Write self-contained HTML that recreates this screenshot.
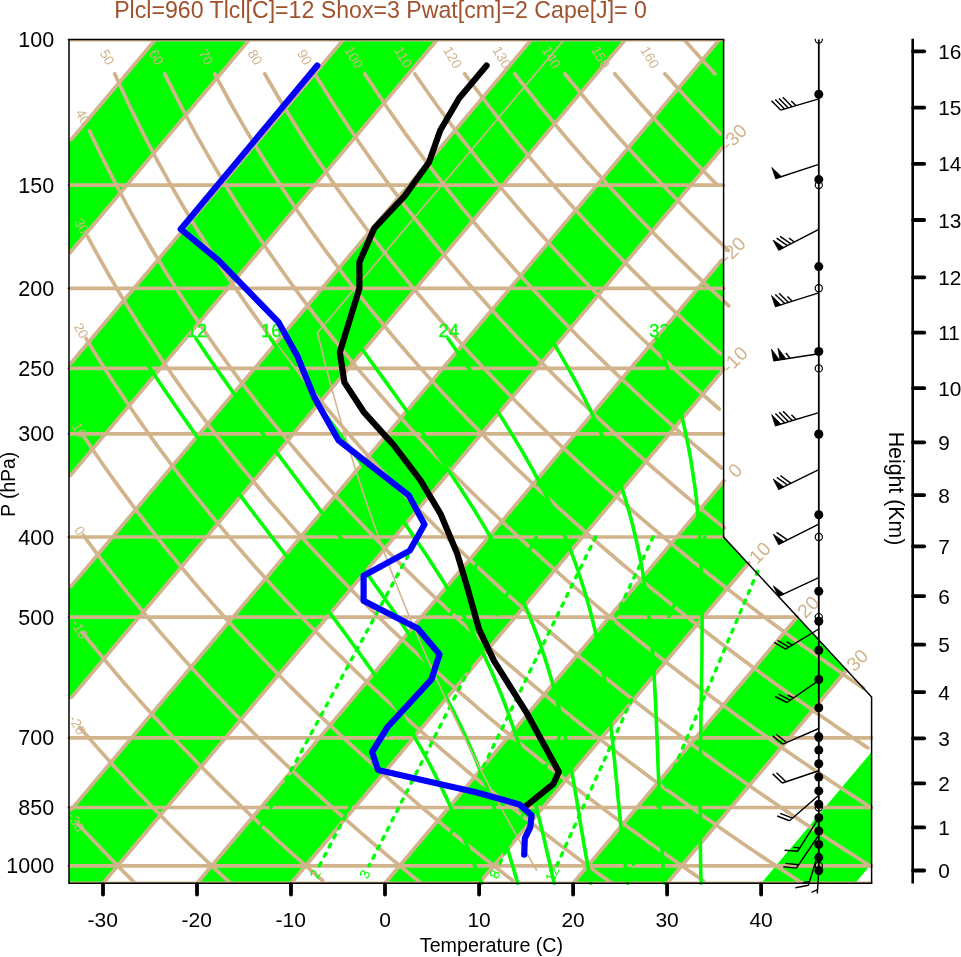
<!DOCTYPE html>
<html lang="en"><head><meta charset="utf-8"><title>Skew-T Log-P</title>
<style>html,body{margin:0;padding:0;background:#fff}svg{display:block}</style></head>
<body>
<svg width="961" height="957" viewBox="0 0 961 957" font-family="'Liberation Sans', sans-serif">
<defs><clipPath id="fc"><path d="M69 883.3 L69 39.6 L723.6 39.6 L723.6 537.1 L871.6 697 L871.6 883.3 Z"/></clipPath><clipPath id="vc"><rect x="69" y="39.6" width="804.6" height="843.7"/></clipPath><clipPath id="wc"><rect x="760" y="38.8" width="120" height="900"/></clipPath></defs>
<rect width="961" height="957" fill="#fff"/>
<g clip-path="url(#fc)" fill="#00ff00">
<path d="M-571.9 903.2 L186 3.2 L280 3.2 L-477.9 903.2 Z"/>
<path d="M-383.9 903.2 L374 3.2 L468 3.2 L-289.9 903.2 Z"/>
<path d="M-195.9 903.2 L562 3.2 L656.1 3.2 L-101.8 903.2 Z"/>
<path d="M-7.8 903.2 L750.1 3.2 L844.1 3.2 L86.2 903.2 Z"/>
<path d="M180.2 903.2 L938.1 3.2 L1032.1 3.2 L274.2 903.2 Z"/>
<path d="M368.2 903.2 L1126.1 3.2 L1220.1 3.2 L462.2 903.2 Z"/>
<path d="M556.3 903.2 L1314.2 3.2 L1408.2 3.2 L650.3 903.2 Z"/>
<path d="M744.3 903.2 L1502.2 3.2 L1596.2 3.2 L838.3 903.2 Z"/>
</g>
<g clip-path="url(#vc)" stroke="#d2b48c" stroke-width="3.7" stroke-linecap="round" fill="none">
<path d="M155.4 39.6 L71.5 139.2"/>
<path d="M249.4 39.6 L70.1 252.5"/>
<path d="M343.4 39.6 L70.2 364"/>
<path d="M437.4 39.6 L70.3 475.5"/>
<path d="M531.4 39.6 L71 586.4"/>
<path d="M625.4 39.6 L71.7 697.1"/>
<path d="M719.4 39.6 L71.1 809.6"/>
<path d="M722.8 147.3 L103 883.3"/>
<path d="M721.6 260.3 L197 883.3"/>
<path d="M723.4 369.8 L291 883.3"/>
<path d="M724 480.8 L385 883.3"/>
<path d="M748.8 563 L479.1 883.3"/>
<path d="M797.2 617.1 L573.1 883.3"/>
<path d="M846.4 670.3 L667.1 883.3"/>
<path d="M69 883.3 L871.6 883.3"/>
<path d="M69 865.8 L871.6 865.8"/>
<path d="M69 807.5 L871.6 807.5"/>
<path d="M69 737.8 L871.6 737.8"/>
<path d="M69 617.1 L797.3 617.1"/>
<path d="M69 537 L723.6 537"/>
<path d="M69 433.8 L723.6 433.8"/>
<path d="M69 368.4 L723.6 368.4"/>
<path d="M69 288.3 L723.6 288.3"/>
<path d="M69 185.1 L723.6 185.1"/>
<path d="M69 39.6 L723.6 39.6"/>
<path d="M78 824 L81.7 828 L85.4 831.9 L89.1 835.8 L92.7 839.7 L96.3 843.6 L100 847.4 L103.5 851.1 L107.1 854.8 L110.7 858.5 L114.2 862.2 L117.7 865.8 L121.3 869.3 L124.7 872.9 L128.2 876.4 L131.7 879.8 L135.1 883.3"/>
<path d="M79.7 727.4 L84.2 732.6 L88.7 737.8 L93.2 742.9 L97.6 747.9 L102 752.8 L106.4 757.7 L110.7 762.5 L115 767.3 L119.3 772 L123.6 776.6 L127.8 781.2 L132 785.7 L136.2 790.2 L140.4 794.6 L144.6 798.9 L148.7 803.2 L152.8 807.5 L156.9 811.6 L160.9 815.8 L164.9 819.9 L169 824 L173 828 L176.9 831.9 L180.9 835.8 L184.8 839.7 L188.7 843.6 L192.6 847.4 L196.5 851.1 L200.3 854.8 L204.2 858.5 L208 862.2 L211.8 865.8 L215.5 869.3 L219.3 872.9 L223 876.4 L226.8 879.8 L230.5 883.3"/>
<path d="M82.4 632.5 L87.9 639.3 L93.3 646 L98.7 652.6 L104 659 L109.3 665.3 L114.5 671.6 L119.7 677.7 L124.9 683.7 L130 689.6 L135.1 695.4 L140.1 701.1 L145.2 706.8 L150.2 712.3 L155.1 717.8 L160 723.1 L164.9 728.4 L169.8 733.7 L174.6 738.8 L179.4 743.9 L184.1 748.9 L188.9 753.8 L193.6 758.7 L198.2 763.5 L202.9 768.2 L207.5 772.9 L212.1 777.5 L216.6 782.1 L221.1 786.6 L225.6 791 L230.1 795.4 L234.6 799.8 L239 804.1 L243.4 808.3 L247.8 812.5 L252.1 816.6 L256.4 820.7 L260.7 824.8 L265 828.8 L269.3 832.7 L273.5 836.6 L277.7 840.5 L281.9 844.3 L286.1 848.1 L290.2 851.9 L294.3 855.6 L298.4 859.2 L302.5 862.9 L306.6 866.5 L310.6 870 L314.6 873.6 L318.6 877.1 L322.6 880.5"/>
<path d="M83.3 535.2 L89.9 544.1 L96.4 552.8 L102.8 561.3 L109.2 569.6 L115.5 577.7 L121.7 585.6 L127.9 593.3 L134.1 600.9 L140.2 608.4 L146.2 615.6 L152.2 622.8 L158.1 629.8 L164 636.6 L169.9 643.3 L175.7 650 L181.4 656.4 L187.1 662.8 L192.8 669.1 L198.4 675.2 L204 681.3 L209.5 687.2 L215 693.1 L220.4 698.8 L225.8 704.5 L231.2 710.1 L236.5 715.6 L241.8 721 L247.1 726.3 L252.3 731.6 L257.5 736.8 L262.6 741.9 L267.7 746.9 L272.8 751.9 L277.9 756.8 L282.9 761.6 L287.9 766.4 L292.8 771.1 L297.7 775.7 L302.6 780.3 L307.5 784.8 L312.3 789.3 L317.1 793.7 L321.9 798 L326.6 802.4 L331.3 806.6 L336 810.8 L340.7 815 L345.3 819.1 L349.9 823.1 L354.5 827.2 L359 831.1 L363.6 835.1 L368.1 839 L372.5 842.8 L377 846.6 L381.4 850.4 L385.8 854.1 L390.2 857.8 L394.6 861.4 L398.9 865 L403.2 868.6 L407.5 872.2 L411.8 875.7 L416.1 879.1 L420.3 882.6"/>
<path d="M83.7 436.2 L91.5 447.9 L99.3 459.2 L107 470.2 L114.6 480.8 L122.1 491.1 L129.5 501.2 L136.8 511 L144.1 520.5 L151.3 529.8 L158.4 538.8 L165.4 547.6 L172.4 556.2 L179.3 564.6 L186.1 572.8 L192.9 580.9 L199.6 588.7 L206.3 596.4 L212.8 603.9 L219.4 611.3 L225.8 618.5 L232.2 625.6 L238.6 632.5 L244.9 639.3 L251.1 646 L257.3 652.6 L263.4 659 L269.5 665.3 L275.6 671.6 L281.6 677.7 L287.5 683.7 L293.4 689.6 L299.2 695.4 L305 701.1 L310.8 706.8 L316.5 712.3 L322.2 717.8 L327.8 723.1 L333.4 728.4 L339 733.7 L344.5 738.8 L350 743.9 L355.4 748.9 L360.8 753.8 L366.2 758.7 L371.5 763.5 L376.8 768.2 L382.1 772.9 L387.3 777.5 L392.5 782.1 L397.7 786.6 L402.8 791 L407.9 795.4 L413 799.8 L418 804.1 L423 808.3 L428 812.5 L432.9 816.6 L437.8 820.7 L442.7 824.8 L447.6 828.8 L452.4 832.7 L457.2 836.6 L462 840.5 L466.8 844.3 L471.5 848.1 L476.2 851.9 L480.9 855.6 L485.5 859.2 L490.1 862.9 L494.7 866.5 L499.3 870 L503.8 873.6 L508.4 877.1 L512.9 880.5"/>
<path d="M86.1 338.5 L95.4 353.7 L104.6 368.4 L113.6 382.4 L122.6 396 L131.4 409 L140.1 421.6 L148.7 433.8 L157.2 445.6 L165.6 456.9 L173.9 468 L182.1 478.7 L190.2 489.1 L198.2 499.2 L206.1 509 L213.9 518.6 L221.7 527.9 L229.3 537 L236.9 545.9 L244.4 554.5 L251.8 563 L259.1 571.2 L266.4 579.3 L273.6 587.2 L280.7 594.9 L287.7 602.4 L294.7 609.8 L301.6 617.1 L308.5 624.2 L315.3 631.1 L322 638 L328.7 644.7 L335.3 651.3 L341.9 657.7 L348.4 664.1 L354.8 670.3 L361.2 676.5 L367.5 682.5 L373.8 688.4 L380.1 694.2 L386.3 700 L392.4 705.6 L398.5 711.2 L404.6 716.7 L410.6 722.1 L416.5 727.4 L422.4 732.6 L428.3 737.8 L434.1 742.9 L439.9 747.9 L445.7 752.8 L451.4 757.7 L457.1 762.5 L462.7 767.3 L468.3 772 L473.8 776.6 L479.4 781.2 L484.8 785.7 L490.3 790.2 L495.7 794.6 L501.1 798.9 L506.4 803.2 L511.8 807.5 L517 811.6 L522.3 815.8 L527.5 819.9 L532.7 824 L537.8 828 L543 831.9 L548.1 835.8 L553.1 839.7 L558.2 843.6 L563.2 847.4 L568.2 851.1 L573.1 854.8 L578 858.5 L582.9 862.2 L587.8 865.8 L592.7 869.3 L597.5 872.9 L602.3 876.4 L607.1 879.8 L611.8 883.3"/>
<path d="M87.5 236.3 L98.4 256.4 L109.2 275.5 L119.9 293.7 L130.4 310.9 L140.7 327.4 L150.9 343.1 L160.9 358.2 L170.8 372.7 L180.5 386.6 L190.1 400 L199.6 412.9 L208.9 425.3 L218.1 437.4 L227.2 449 L236.2 460.3 L245 471.2 L253.8 481.8 L262.4 492.2 L270.9 502.2 L279.4 511.9 L287.7 521.4 L295.9 530.7 L304.1 539.7 L312.1 548.5 L320.1 557.1 L328 565.4 L335.8 573.6 L343.5 581.7 L351.1 589.5 L358.7 597.2 L366.2 604.7 L373.6 612 L380.9 619.2 L388.2 626.3 L395.4 633.2 L402.6 640 L409.6 646.7 L416.6 653.2 L423.6 659.6 L430.5 666 L437.3 672.2 L444.1 678.3 L450.8 684.3 L457.4 690.2 L464.1 696 L470.6 701.7 L477.1 707.3 L483.6 712.9 L490 718.3 L496.3 723.7 L502.6 729 L508.9 734.2 L515.1 739.3 L521.2 744.4 L527.3 749.4 L533.4 754.3 L539.5 759.2 L545.4 764 L551.4 768.7 L557.3 773.4 L563.2 778 L569 782.5 L574.8 787 L580.5 791.5 L586.2 795.9 L591.9 800.2 L597.6 804.5 L603.2 808.7 L608.7 812.9 L614.3 817 L619.8 821.1 L625.3 825.2 L630.7 829.2 L636.1 833.1 L641.5 837 L646.8 840.9 L652.1 844.7 L657.4 848.5 L662.7 852.2 L667.9 855.9 L673.1 859.6 L678.2 863.2 L683.4 866.8 L688.5 870.4 L693.6 873.9 L698.6 877.4 L703.6 880.9"/>
<path d="M89.5 131 L102.4 157.8 L115 182.7 L127.4 206 L139.6 227.9 L151.5 248.5 L163.3 268 L174.9 286.5 L186.3 304.1 L197.5 320.9 L208.5 336.9 L219.3 352.2 L230 366.9 L240.5 381.1 L250.9 394.7 L261.1 407.8 L271.1 420.4 L281 432.6 L290.8 444.4 L300.4 455.8 L309.9 466.9 L319.3 477.6 L328.5 488.1 L337.7 498.2 L346.7 508.1 L355.6 517.7 L364.4 527 L373.1 536.1 L381.7 545 L390.2 553.7 L398.6 562.1 L407 570.4 L415.2 578.5 L423.3 586.4 L431.4 594.1 L439.4 601.7 L447.3 609.1 L455.1 616.4 L462.8 623.5 L470.5 630.4 L478.1 637.3 L485.6 644 L493 650.6 L500.4 657.1 L507.7 663.5 L515 669.7 L522.2 675.8 L529.3 681.9 L536.4 687.8 L543.4 693.7 L550.3 699.4 L557.2 705.1 L564.1 710.6 L570.8 716.1 L577.6 721.5 L584.2 726.9 L590.9 732.1 L597.4 737.3 L604 742.4 L610.5 747.4 L616.9 752.4 L623.3 757.2 L629.6 762.1 L635.9 766.8 L642.1 771.5 L648.4 776.2 L654.5 780.7 L660.6 785.3 L666.7 789.7 L672.8 794.1 L678.8 798.5 L684.7 802.8 L690.7 807 L696.5 811.2 L702.4 815.4 L708.2 819.5 L714 823.5 L719.7 827.6 L725.4 831.5 L731.1 835.5 L736.7 839.3 L742.3 843.2 L747.9 847 L753.5 850.7 L759 854.5 L764.4 858.1 L769.9 861.8 L775.3 865.4 L780.7 869 L786.1 872.5 L791.4 876 L796.7 879.5 L801.9 882.9"/>
<path d="M114.7 73.8 L129.1 105 L143.3 133.8 L157.2 160.3 L170.9 185.1 L184.3 208.3 L197.4 230 L210.3 250.5 L223 269.9 L235.4 288.3 L247.6 305.8 L259.6 322.5 L271.3 338.5 L282.9 353.7 L294.3 368.4 L305.5 382.4 L316.5 396 L327.4 409 L338.1 421.6 L348.6 433.8 L359 445.6 L369.2 456.9 L379.3 468 L389.3 478.7 L399.1 489.1 L408.8 499.2 L418.3 509 L427.8 518.6 L437.1 527.9 L446.3 537 L455.4 545.9 L464.4 554.5 L473.3 563 L482.1 571.2 L490.8 579.3 L499.4 587.2 L507.9 594.9 L516.4 602.4 L524.7 609.8 L533 617.1 L541.1 624.2 L549.2 631.1 L557.2 638 L565.2 644.7 L573 651.3 L580.8 657.7 L588.5 664.1 L596.2 670.3 L603.7 676.5 L611.3 682.5 L618.7 688.4 L626.1 694.2 L633.4 700 L640.7 705.6 L647.9 711.2 L655 716.7 L662.1 722.1 L669.1 727.4 L676.1 732.6 L683 737.8 L689.9 742.9 L696.7 747.9 L703.4 752.8 L710.2 757.7 L716.8 762.5 L723.4 767.3 L730 772 L736.5 776.6 L743 781.2 L749.5 785.7 L755.8 790.2 L762.2 794.6 L768.5 798.9 L774.8 803.2 L781 807.5 L787.2 811.6 L793.3 815.8 L799.4 819.9 L805.5 824 L811.5 828 L817.5 831.9 L823.5 835.8 L829.4 839.7 L835.3 843.6 L841.1 847.4 L846.9 851.1 L852.7 854.8 L858.5 858.5 L864.2 862.2 L869.9 865.8"/>
<path d="M164.7 73.8 L180.4 105 L195.7 133.8 L210.8 160.3 L225.5 185.1 L239.9 208.3 L254 230 L267.9 250.5 L281.4 269.9 L294.7 288.3 L307.7 305.8 L320.5 322.5 L333.1 338.5 L345.4 353.7 L357.5 368.4 L369.5 382.4 L381.2 396 L392.7 409 L404.1 421.6 L415.2 433.8 L426.2 445.6 L437.1 456.9 L447.8 468 L458.3 478.7 L468.7 489.1 L479 499.2 L489.1 509 L499.1 518.6 L508.9 527.9 L518.7 537 L528.3 545.9 L537.8 554.5 L547.2 563 L556.5 571.2 L565.7 579.3 L574.7 587.2 L583.7 594.9 L592.6 602.4 L601.4 609.8 L610.1 617.1 L618.7 624.2 L627.2 631.1 L635.6 638 L644 644.7 L652.3 651.3 L660.5 657.7 L668.6 664.1 L676.6 670.3 L684.6 676.5 L692.5 682.5 L700.3 688.4 L708.1 694.2 L715.8 700 L723.4 705.6 L731 711.2 L738.5 716.7 L745.9 722.1 L753.3 727.4 L760.6 732.6 L767.9 737.8 L775.1 742.9 L782.3 747.9 L789.4 752.8 L796.4 757.7 L803.4 762.5 L810.4 767.3 L817.3 772 L824.1 776.6 L830.9 781.2 L837.7 785.7 L844.4 790.2 L851 794.6 L857.6 798.9 L864.2 803.2 L870.7 807.5"/>
<path d="M214.7 73.8 L231.6 105 L248.2 133.8 L264.4 160.3 L280.2 185.1 L295.6 208.3 L310.7 230 L325.4 250.5 L339.9 269.9 L354 288.3 L367.9 305.8 L381.5 322.5 L394.8 338.5 L407.9 353.7 L420.8 368.4 L433.4 382.4 L445.8 396 L458 409 L470 421.6 L481.9 433.8 L493.5 445.6 L505 456.9 L516.2 468 L527.4 478.7 L538.3 489.1 L549.2 499.2 L559.8 509 L570.4 518.6 L580.8 527.9 L591 537 L601.1 545.9 L611.2 554.5 L621 563 L630.8 571.2 L640.5 579.3 L650 587.2 L659.5 594.9 L668.8 602.4 L678 609.8 L687.2 617.1 L696.2 624.2 L705.2 631.1 L714 638 L722.8 644.7 L731.5 651.3 L740.1 657.7 L748.6 664.1 L757.1 670.3 L765.4 676.5 L773.7 682.5 L781.9 688.4 L790.1 694.2 L798.2 700 L806.2 705.6 L814.1 711.2 L822 716.7 L829.8 722.1 L837.5 727.4 L845.2 732.6 L852.8 737.8 L860.3 742.9 L867.8 747.9"/>
<path d="M264.7 73.8 L282.9 105 L300.6 133.8 L317.9 160.3 L334.8 185.1 L351.3 208.3 L367.3 230 L383 250.5 L398.4 269.9 L413.4 288.3 L428.1 305.8 L442.5 322.5 L456.6 338.5 L470.4 353.7 L484 368.4 L497.4 382.4 L510.5 396 L523.4 409 L536 421.6 L548.5 433.8 L560.8 445.6 L572.8 456.9 L584.7 468 L596.4 478.7 L608 489.1 L619.4 499.2 L630.6 509 L641.6 518.6 L652.6 527.9 L663.4 537 L674 545.9 L684.5 554.5 L694.9 563 L705.2 571.2 L715.3 579.3 L725.3 587.2 L735.2 594.9 L745 602.4 L754.7 609.8 L764.3 617.1 L773.8 624.2 L783.2 631.1 L792.4 638 L801.6 644.7 L810.7 651.3 L819.7 657.7 L828.7 664.1 L837.5 670.3 L846.3 676.5 L855 682.5 L863.6 688.4"/>
<path d="M314.7 73.8 L334.2 105 L353.1 133.8 L371.5 160.3 L389.4 185.1 L406.9 208.3 L424 230 L440.6 250.5 L456.8 269.9 L472.7 288.3 L488.2 305.8 L503.4 322.5 L518.3 338.5 L532.9 353.7 L547.3 368.4 L561.3 382.4 L575.1 396 L588.7 409 L602 421.6 L615.1 433.8 L628 445.6 L640.7 456.9 L653.2 468 L665.5 478.7 L677.6 489.1 L689.5 499.2 L701.3 509 L712.9 518.6 L724.4 527.9"/>
<path d="M364.7 73.8 L385.4 105 L405.6 133.8 L425.1 160.3 L444.1 185.1 L462.6 208.3 L480.6 230 L498.2 250.5 L515.3 269.9 L532 288.3 L548.4 305.8 L564.4 322.5 L580.1 338.5 L595.5 353.7 L610.5 368.4 L625.3 382.4 L639.8 396 L654 409 L668 421.6 L681.7 433.8 L695.3 445.6 L708.6 456.9 L721.7 468"/>
<path d="M414.7 73.8 L436.7 105 L458 133.8 L478.7 160.3 L498.7 185.1 L518.2 208.3 L537.2 230 L555.7 250.5 L573.8 269.9 L591.4 288.3 L608.6 305.8 L625.4 322.5 L641.8 338.5 L658 353.7 L673.8 368.4 L689.2 382.4 L704.4 396 L719.3 409"/>
<path d="M464.7 73.8 L488 105 L510.5 133.8 L532.2 160.3 L553.4 185.1 L573.9 208.3 L593.9 230 L613.3 250.5 L632.2 269.9 L650.7 288.3 L668.7 305.8 L686.4 322.5 L703.6 338.5 L720.5 353.7"/>
<path d="M514.7 73.8 L539.2 105 L562.9 133.8 L585.8 160.3 L608 185.1 L629.6 208.3 L650.5 230 L670.9 250.5 L690.7 269.9 L710 288.3 L728.9 305.8"/>
<path d="M564.7 73.8 L590.5 105 L615.4 133.8 L639.4 160.3 L662.7 185.1 L685.2 208.3 L707.1 230 L728.4 250.5"/>
<path d="M614.7 73.8 L641.8 105 L667.8 133.8 L693 160.3 L717.3 185.1"/>
<path d="M664.8 73.8 L693 105 L720.3 133.8"/>
<path d="M684 39.6 L714.8 73.8"/>
</g>
<g fill="#d2b48c" text-anchor="middle">
<text font-size="19.3" transform="translate(733.7 137) rotate(-45)" y="6.8">-30</text>
<text font-size="19.3" transform="translate(732.5 250) rotate(-45)" y="6.8">-20</text>
<text font-size="19.3" transform="translate(734.3 359.5) rotate(-45)" y="6.8">-10</text>
<text font-size="19.3" transform="translate(734.9 470.5) rotate(-45)" y="6.8">0</text>
<text font-size="19.3" transform="translate(759.7 552.6) rotate(-45)" y="6.8">10</text>
<text font-size="19.3" transform="translate(808.1 606.8) rotate(-45)" y="6.8">20</text>
<text font-size="19.3" transform="translate(857.3 660) rotate(-45)" y="6.8">30</text>
<text font-size="13.8" transform="translate(76.2 821.9) rotate(60)" y="5">-30</text>
<text font-size="13.8" transform="translate(77.5 724.7) rotate(60)" y="5">-20</text>
<text font-size="13.8" transform="translate(79.7 629.1) rotate(60)" y="5">-10</text>
<text font-size="13.8" transform="translate(80 530.7) rotate(60)" y="5">0</text>
<text font-size="13.8" transform="translate(79.7 430.2) rotate(60)" y="5">10</text>
<text font-size="13.8" transform="translate(81.4 330.6) rotate(60)" y="5">20</text>
<text font-size="13.8" transform="translate(81.9 225.8) rotate(60)" y="5">30</text>
<text font-size="13.8" transform="translate(83.1 116.8) rotate(60)" y="5">40</text>
<text font-size="13.8" transform="translate(107.4 57.1) rotate(60)" y="5">50</text>
<text font-size="13.8" transform="translate(156.7 57.1) rotate(60)" y="5">60</text>
<text font-size="13.8" transform="translate(206.1 57.1) rotate(60)" y="5">70</text>
<text font-size="13.8" transform="translate(255.4 57.1) rotate(60)" y="5">80</text>
<text font-size="13.8" transform="translate(304.8 57.1) rotate(60)" y="5">90</text>
<text font-size="13.8" transform="translate(354.1 57.1) rotate(60)" y="5">100</text>
<text font-size="13.8" transform="translate(403.5 57.1) rotate(60)" y="5">110</text>
<text font-size="13.8" transform="translate(452.8 57.1) rotate(60)" y="5">120</text>
<text font-size="13.8" transform="translate(502.1 57.1) rotate(60)" y="5">130</text>
<text font-size="13.8" transform="translate(551.5 57.1) rotate(60)" y="5">140</text>
<text font-size="13.8" transform="translate(600.8 57.1) rotate(60)" y="5">150</text>
<text font-size="13.8" transform="translate(650.2 57.1) rotate(60)" y="5">160</text>
</g>
<g stroke="#00ff00" stroke-width="3.6" stroke-linecap="round" stroke-linejoin="round" fill="none">
<path d="M656.5 338.5 L662.5 353.7 L667.7 368.4 L672.3 382.4 L676.4 396 L680 409 L683.1 421.6 L685.8 433.8 L688.2 445.6 L690.3 456.9 L692.1 468 L693.7 478.7 L695.2 489.1 L696.4 499.2 L697.3 509 L698.2 518.6 L699 527.9 L699.6 537 L700.1 545.9 L700.6 554.5 L701 563 L701.3 571.2 L701.5 579.3 L701.7 587.2 L701.9 594.9 L702 602.4 L702 609.8 L702.1 617.1 L702.1 624.2 L702.1 631.1 L702 638 L702 644.7 L702 651.3 L701.9 657.7 L701.8 664.1 L701.7 670.3 L701.6 676.5 L701.5 682.5 L701.5 688.4 L701.4 694.2 L701.3 700 L701.2 705.6 L701.1 711.2 L701 716.7 L700.9 722.1 L700.9 727.4 L700.8 732.6 L700.8 737.8 L700.7 742.9 L700.7 747.9 L700.6 752.8 L700.6 757.7 L700.6 762.5 L700.5 767.3 L700.5 772 L700.5 776.6 L700.4 781.2 L700.4 785.7 L700.4 790.2 L700.3 794.6 L700.3 798.9 L700.3 803.2 L700.3 807.5 L700.3 811.6 L700.3 815.8 L700.3 819.9 L700.3 824 L700.3 828 L700.3 831.9 L700.3 835.8 L700.3 839.7 L700.3 843.6 L700.4 847.4 L700.4 851.1 L700.5 854.8 L700.5 858.5 L700.6 862.2 L700.6 865.8 L700.7 869.3 L700.8 872.9 L700.9 876.4 L701 879.8 L701.1 883.3"/>
<path d="M550.8 338.5 L559.9 353.7 L568.3 368.4 L576.1 382.4 L583.2 396 L589.8 409 L595.7 421.6 L601.2 433.8 L606.2 445.6 L610.8 456.9 L615 468 L618.8 478.7 L622.2 489.1 L625.4 499.2 L628.3 509 L630.9 518.6 L633.3 527.9 L635.5 537 L637.5 545.9 L639.3 554.5 L641 563 L642.5 571.2 L643.8 579.3 L645 587.2 L646.2 594.9 L647.2 602.4 L648.2 609.8 L649 617.1 L649.8 624.2 L650.5 631.1 L651.2 638 L651.8 644.7 L652.4 651.3 L652.9 657.7 L653.3 664.1 L653.7 670.3 L654.1 676.5 L654.5 682.5 L654.8 688.4 L655.1 694.2 L655.4 700 L655.7 705.6 L655.9 711.2 L656.2 716.7 L656.4 722.1 L656.6 727.4 L656.8 732.6 L657 737.8 L657.2 742.9 L657.4 747.9 L657.6 752.8 L657.8 757.7 L657.9 762.5 L658.1 767.3 L658.3 772 L658.5 776.6 L658.7 781.2 L658.9 785.7 L659.1 790.2 L659.3 794.6 L659.5 798.9 L659.7 803.2 L659.9 807.5 L660.1 811.6 L660.3 815.8 L660.5 819.9 L660.7 824 L660.9 828 L661.1 831.9 L661.3 835.8 L661.5 839.7 L661.7 843.6 L661.9 847.4 L662.1 851.1 L662.3 854.8 L662.6 858.5 L662.8 862.2 L663 865.8 L663.3 869.3 L663.5 872.9 L663.8 876.4 L664 879.8 L664.3 883.3"/>
<path d="M448 338.5 L458.7 353.7 L468.9 368.4 L478.4 382.4 L487.5 396 L496.1 409 L504.1 421.6 L511.7 433.8 L518.8 445.6 L525.4 456.9 L531.7 468 L537.5 478.7 L543 489.1 L548.1 499.2 L552.9 509 L557.3 518.6 L561.4 527.9 L565.3 537 L568.8 545.9 L572.2 554.5 L575.3 563 L578.2 571.2 L580.8 579.3 L583.3 587.2 L585.7 594.9 L587.9 602.4 L589.9 609.8 L591.8 617.1 L593.5 624.2 L595.2 631.1 L596.7 638 L598.1 644.7 L599.5 651.3 L600.7 657.7 L601.9 664.1 L603 670.3 L604 676.5 L605 682.5 L605.9 688.4 L606.7 694.2 L607.5 700 L608.3 705.6 L609 711.2 L609.7 716.7 L610.4 722.1 L611 727.4 L611.6 732.6 L612.1 737.8 L612.7 742.9 L613.2 747.9 L613.7 752.8 L614.2 757.7 L614.7 762.5 L615.1 767.3 L615.6 772 L616 776.6 L616.5 781.2 L616.9 785.7 L617.3 790.2 L617.7 794.6 L618.1 798.9 L618.6 803.2 L619 807.5 L619.4 811.6 L619.8 815.8 L620.2 819.9 L620.6 824 L621 828 L621.5 831.9 L621.9 835.8 L622.4 839.7 L622.8 843.6 L623.2 847.4 L623.7 851.1 L624.1 854.8 L624.6 858.5 L625 862.2 L625.4 865.8 L625.9 869.3 L626.3 872.9 L626.8 876.4 L627.2 879.8 L627.7 883.3"/>
<path d="M354.3 338.5 L365.4 353.7 L376 368.4 L386.2 382.4 L396 396 L405.4 409 L414.5 421.6 L423.1 433.8 L431.4 445.6 L439.3 456.9 L446.9 468 L454 478.7 L460.9 489.1 L467.4 499.2 L473.7 509 L479.5 518.6 L485.1 527.9 L490.4 537 L495.5 545.9 L500.2 554.5 L504.7 563 L508.9 571.2 L512.9 579.3 L516.7 587.2 L520.3 594.9 L523.7 602.4 L526.9 609.8 L529.9 617.1 L532.7 624.2 L535.4 631.1 L538 638 L540.4 644.7 L542.6 651.3 L544.8 657.7 L546.8 664.1 L548.7 670.3 L550.5 676.5 L552.3 682.5 L553.9 688.4 L555.4 694.2 L556.9 700 L558.3 705.6 L559.7 711.2 L560.9 716.7 L562.1 722.1 L563.3 727.4 L564.4 732.6 L565.5 737.8 L566.5 742.9 L567.5 747.9 L568.4 752.8 L569.3 757.7 L570.2 762.5 L571.1 767.3 L571.9 772 L572.7 776.6 L573.5 781.2 L574.3 785.7 L575 790.2 L575.8 794.6 L576.5 798.9 L577.2 803.2 L577.9 807.5 L578.6 811.6 L579.2 815.8 L579.9 819.9 L580.6 824 L581.2 828 L581.9 831.9 L582.6 835.8 L583.2 839.7 L583.8 843.6 L584.5 847.4 L585.2 851.1 L585.8 854.8 L586.5 858.5 L587.2 862.2 L587.8 865.8 L588.5 869.3 L589.1 872.9 L589.8 876.4 L590.4 879.8 L591 883.3"/>
<path d="M270.5 338.5 L281.2 353.7 L291.7 368.4 L301.9 382.4 L311.8 396 L321.3 409 L330.6 421.6 L339.6 433.8 L348.3 445.6 L356.6 456.9 L364.7 468 L372.6 478.7 L380.2 489.1 L387.5 499.2 L394.6 509 L401.3 518.6 L407.9 527.9 L414.1 537 L420.2 545.9 L426 554.5 L431.5 563 L436.8 571.2 L441.9 579.3 L446.8 587.2 L451.5 594.9 L456 602.4 L460.2 609.8 L464.3 617.1 L468.2 624.2 L471.9 631.1 L475.5 638 L478.9 644.7 L482.1 651.3 L485.2 657.7 L488.1 664.1 L491 670.3 L493.7 676.5 L496.2 682.5 L498.7 688.4 L501.1 694.2 L503.3 700 L505.5 705.6 L507.5 711.2 L509.5 716.7 L511.4 722.1 L513.2 727.4 L515 732.6 L516.7 737.8 L518.3 742.9 L519.9 747.9 L521.4 752.8 L522.8 757.7 L524.2 762.5 L525.6 767.3 L526.9 772 L528.2 776.6 L529.5 781.2 L530.7 785.7 L531.9 790.2 L533 794.6 L534.1 798.9 L535.2 803.2 L536.3 807.5 L537.4 811.6 L538.4 815.8 L539.5 819.9 L540.5 824 L541.5 828 L542.4 831.9 L543.4 835.8 L544.3 839.7 L545.1 843.6 L546 847.4 L546.9 851.1 L547.7 854.8 L548.6 858.5 L549.4 862.2 L550.2 865.8 L551 869.3 L551.8 872.9 L552.6 876.4 L553.4 879.8 L554.2 883.3"/>
<path d="M196 338.5 L206.2 353.7 L216.3 368.4 L226.1 382.4 L235.6 396 L245 409 L254.1 421.6 L263 433.8 L271.7 445.6 L280.1 456.9 L288.4 468 L296.4 478.7 L304.2 489.1 L311.8 499.2 L319.2 509 L326.4 518.6 L333.3 527.9 L340.1 537 L346.7 545.9 L353.1 554.5 L359.3 563 L365.3 571.2 L371.1 579.3 L376.7 587.2 L382.2 594.9 L387.4 602.4 L392.5 609.8 L397.4 617.1 L402.2 624.2 L406.8 631.1 L411.2 638 L415.4 644.7 L419.5 651.3 L423.5 657.7 L427.3 664.1 L431 670.3 L434.6 676.5 L438 682.5 L441.3 688.4 L444.5 694.2 L447.5 700 L450.4 705.6 L453.3 711.2 L456.1 716.7 L458.7 722.1 L461.3 727.4 L463.7 732.6 L466.1 737.8 L468.4 742.9 L470.7 747.9 L472.8 752.8 L474.9 757.7 L477 762.5 L478.9 767.3 L480.8 772 L482.7 776.6 L484.5 781.2 L486.3 785.7 L487.9 790.2 L489.6 794.6 L491.1 798.9 L492.6 803.2 L494.1 807.5 L495.6 811.6 L497 815.8 L498.3 819.9 L499.7 824 L501 828 L502.2 831.9 L503.5 835.8 L504.7 839.7 L505.9 843.6 L507 847.4 L508.2 851.1 L509.3 854.8 L510.4 858.5 L511.5 862.2 L512.6 865.8 L513.7 869.3 L514.7 872.9 L515.8 876.4 L516.8 879.8 L517.8 883.3"/>
<path d="M131.1 338.5 L140.7 353.7 L150.2 368.4 L159.5 382.4 L168.7 396 L177.6 409 L186.4 421.6 L195 433.8 L203.4 445.6 L211.7 456.9 L219.8 468 L227.7 478.7 L235.5 489.1 L243.1 499.2 L250.5 509 L257.8 518.6 L264.9 527.9 L271.8 537 L278.6 545.9 L285.2 554.5 L291.7 563 L298.1 571.2 L304.2 579.3 L310.3 587.2 L316.2 594.9 L321.9 602.4 L327.5 609.8 L332.9 617.1 L338.2 624.2 L343.4 631.1 L348.4 638 L353.3 644.7 L358.1 651.3 L362.7 657.7 L367.2 664.1 L371.6 670.3 L375.9 676.5 L380 682.5 L384 688.4 L387.9 694.2 L391.7 700 L395.4 705.6 L398.9 711.2 L402.3 716.7 L405.6 722.1 L408.8 727.4 L412 732.6 L415 737.8 L417.9 742.9 L420.8 747.9 L423.5 752.8 L426.2 757.7 L428.8 762.5 L431.3 767.3 L433.7 772 L436 776.6 L438.3 781.2 L440.6 785.7 L442.7 790.2 L444.8 794.6 L446.9 798.9 L448.9 803.2 L450.8 807.5 L452.7 811.6 L454.5 815.8 L456.3 819.9 L458.1 824 L459.8 828 L461.5 831.9 L463.1 835.8 L464.7 839.7 L466.3 843.6 L467.8 847.4 L469.3 851.1 L470.8 854.8 L472.2 858.5 L473.6 862.2 L475 865.8 L476.4 869.3 L477.7 872.9 L479 876.4 L480.3 879.8 L481.6 883.3"/>
</g>
<g stroke="#00ff00" stroke-width="3.4" stroke-linecap="round" stroke-dasharray="3.3 7.2" fill="none">
<path d="M757.7 571.2 L632.7 865.8"/>
<path d="M704.9 537 L556.6 865.8"/>
<path d="M653.1 537 L498.8 865.8"/>
<path d="M595.6 537 L434.9 865.8"/>
<path d="M536.2 537 L369.1 865.8"/>
<path d="M491.1 537 L319.3 865.8"/>
<path d="M418.2 537 L239.1 865.8"/>
</g>
<g fill="#00ff00" text-anchor="middle">
<text font-size="18.3" stroke="#00ff00" stroke-width="0.35" x="659.5" y="337.2">32</text>
<text font-size="18.3" stroke="#00ff00" stroke-width="0.35" x="552.1" y="337.2">28</text>
<text font-size="18.3" stroke="#00ff00" stroke-width="0.35" x="448.7" y="337.2">24</text>
<text font-size="18.3" stroke="#00ff00" stroke-width="0.35" x="354.8" y="337.2">20</text>
<text font-size="18.3" stroke="#00ff00" stroke-width="0.35" x="271.2" y="337.2">16</text>
<text font-size="18.3" stroke="#00ff00" stroke-width="0.35" x="197" y="337.2">12</text>
<text font-size="18.3" stroke="#00ff00" stroke-width="0.35" x="132.4" y="337.2">8</text>
<text font-size="14" transform="translate(628.4 874.2) rotate(-65)" y="5">20</text>
<text font-size="14" transform="translate(552.2 874.2) rotate(-65)" y="5">12</text>
<text font-size="14" transform="translate(494.5 874.2) rotate(-65)" y="5">8</text>
<text font-size="14" transform="translate(430.6 874.2) rotate(-65)" y="5">5</text>
<text font-size="14" transform="translate(364.7 874.2) rotate(-65)" y="5">3</text>
<text font-size="14" transform="translate(315 874.2) rotate(-65)" y="5">2</text>
<text font-size="14" transform="translate(234.8 874.2) rotate(-65)" y="5">1</text>
</g>
<path d="M536.8 870.5 L524.3 849.1 L512 827.5 L499.8 805.6 L487.9 783.4 L476.2 761 L464.8 738.3 L453.6 715.4 L442.6 692.2 L431.8 668.6 L421.3 644.8 L411.1 620.7 L401.1 596.2 L391.4 571.5 L382 546.4 L372.8 521 L364 495.2 L355.4 469.1 L347.2 442.6 L339.3 415.7 L331.7 388.4 L324.4 360.7 L317.5 332.7 L341.4 304.4 L365.2 276.1 L389 247.8 L412.8 219.5 L436.6 191.2 L460.5 162.9 L484.3 134.7 L508.1 106.4 L531.9 78.1 L555.7 49.8 L564.3 39.6" stroke="#d2b48c" stroke-width="1.6" fill="none"/>
<g fill="none" stroke-width="6.2" stroke-linecap="round" stroke-linejoin="round">
<path stroke="#000" d="M486.6 65.6 L459.1 98.3 L440.3 130.3 L429 162.3 L404.5 196.1 L374.4 228.1 L359.4 262 L359.4 288.3 L339.8 352.3 L344.4 382.4 L363.6 411.8 L393.7 445.2 L420.5 480.3 L440.5 513.8 L457.3 553.9 L467.3 587.4 L479 629.2 L494 660.9 L527 713.4 L558.8 771.8 L553.3 784 L526.1 805.8"/>
<path stroke="#0000ff" d="M317.3 65.6 L180.7 229.2 L218.3 260.1 L278.5 322.2 L297.3 356 L314.3 397.4 L338.5 440.2 L408.8 495.4 L424.5 524.5 L409.8 550.6 L363.6 575.7 L363.6 600.7 L417.8 628.5 L439.5 654.2 L431.5 679.3 L387.6 727 L372.1 752 L378 769.9 L475.9 792.2 L519.3 804.4 L531.6 815.3 L530.2 827.5 L524.8 838.4 L524.2 854.7"/>
</g>
<path d="M69 883.3 L69 39.6 L723.6 39.6 L723.6 537.1 L871.6 697 L871.6 883.3 Z" fill="none" stroke="#000" stroke-width="1.5"/>
<g font-size="21.5" fill="#000" text-anchor="end">
<text x="54.2" y="873.4">1000</text>
<text x="54.2" y="815.1">850</text>
<text x="54.2" y="745.4">700</text>
<text x="54.2" y="624.7">500</text>
<text x="54.2" y="544.6">400</text>
<text x="54.2" y="441.4">300</text>
<text x="54.2" y="376">250</text>
<text x="54.2" y="295.9">200</text>
<text x="54.2" y="192.7">150</text>
<text x="54.2" y="47.2">100</text>
</g>
<g stroke="#000" stroke-width="1.3">
<path d="M67.8 865.8 H69"/>
<path d="M67.8 807.5 H69"/>
<path d="M67.8 737.8 H69"/>
<path d="M67.8 617.1 H69"/>
<path d="M67.8 537 H69"/>
<path d="M67.8 433.8 H69"/>
<path d="M67.8 368.4 H69"/>
<path d="M67.8 288.3 H69"/>
<path d="M67.8 185.1 H69"/>
<path d="M67.8 39.6 H69"/>
</g>
<text font-size="19.3" fill="#000" text-anchor="middle" transform="translate(14.6 484.3) rotate(-90)">P (hPa)</text>
<g stroke="#000" stroke-width="3.8" stroke-linecap="round">
<path d="M103 884.3 V894.6"/>
<path d="M197 884.3 V894.6"/>
<path d="M291 884.3 V894.6"/>
<path d="M385 884.3 V894.6"/>
<path d="M479.1 884.3 V894.6"/>
<path d="M573.1 884.3 V894.6"/>
<path d="M667.1 884.3 V894.6"/>
<path d="M761.1 884.3 V894.6"/>
</g>
<g font-size="21" fill="#000" text-anchor="middle">
<text x="102.7" y="926.7">-30</text>
<text x="196.7" y="926.7">-20</text>
<text x="290.7" y="926.7">-10</text>
<text x="385" y="926.7">0</text>
<text x="479.1" y="926.7">10</text>
<text x="573.1" y="926.7">20</text>
<text x="667.1" y="926.7">30</text>
<text x="761.1" y="926.7">40</text>
</g>
<text font-size="19.7" fill="#000" text-anchor="middle" x="491.5" y="952.2">Temperature (C)</text>
<text font-size="23.15" fill="#a0522d" text-anchor="middle" x="380.5" y="18.2">Plcl=960 Tlcl[C]=12 Shox=3 Pwat[cm]=2 Cape[J]= 0</text>
<g clip-path="url(#wc)">
<path d="M818.8 39.6 V870.4" stroke="#000" stroke-width="1.8"/>
<g fill="none" stroke="#000" stroke-width="1.2">
<circle cx="818.8" cy="865.8" r="3.6"/>
<circle cx="818.8" cy="807.5" r="3.6"/>
<circle cx="818.8" cy="737.8" r="3.6"/>
<circle cx="818.8" cy="617.1" r="3.6"/>
<circle cx="818.8" cy="537" r="3.6"/>
<circle cx="818.8" cy="433.8" r="3.6"/>
<circle cx="818.8" cy="368.4" r="3.6"/>
<circle cx="818.8" cy="288.3" r="3.6"/>
<circle cx="818.8" cy="185.1" r="3.6"/>
<circle cx="818.8" cy="39.6" r="3.6"/>
</g>
<g fill="#000">
<circle cx="818.8" cy="94.3" r="4.5"/>
<circle cx="818.8" cy="179.6" r="4.5"/>
<circle cx="818.8" cy="266.6" r="4.5"/>
<circle cx="818.8" cy="351.5" r="4.5"/>
<circle cx="818.8" cy="434.2" r="4.5"/>
<circle cx="818.8" cy="514.8" r="4.5"/>
<circle cx="818.8" cy="591.3" r="4.5"/>
<circle cx="818.8" cy="621.3" r="4.5"/>
<circle cx="818.8" cy="650.3" r="4.5"/>
<circle cx="818.8" cy="679.5" r="4.5"/>
<circle cx="818.8" cy="707.8" r="4.5"/>
<circle cx="818.8" cy="736.6" r="4.5"/>
<circle cx="818.8" cy="750.1" r="4.5"/>
<circle cx="818.8" cy="763.7" r="4.5"/>
<circle cx="818.8" cy="777" r="4.5"/>
<circle cx="818.8" cy="790.9" r="4.5"/>
<circle cx="818.8" cy="804.3" r="4.5"/>
<circle cx="818.8" cy="817.8" r="4.5"/>
<circle cx="818.8" cy="831" r="4.5"/>
<circle cx="818.8" cy="844.4" r="4.5"/>
<circle cx="818.8" cy="857.6" r="4.5"/>
<circle cx="818.8" cy="870.5" r="4.5"/>
</g>
<path d="M818.8 98.9 L780.7 110.1 M780.7 110.1 L771.5 100.7 M784.5 109 L775.3 99.6 M788.3 107.9 L779 98.4 M792.1 106.8 L782.8 97.3 M795.9 105.6 L791.2 100.9 M818.8 164.4 L775.6 178.5 M818.8 229.3 L778.6 250.2 M787.4 245.6 L776.6 238.1 M790.9 243.8 L780.1 236.3 M794.4 242 L789 238.2 M818.8 292.9 L775.2 306.6 M784.7 303.6 L775.3 294.4 M788.5 302.4 L779.1 293.2 M792.2 301.2 L787.5 296.6 M818.8 353.7 L773.5 360.7 M789.9 358.2 L785.9 352.9 M818.8 412.6 L775.2 425.7 M784.7 422.8 L775.4 413.5 M788.5 421.7 L779.2 412.3 M792.3 420.6 L783 411.2 M796.1 419.4 L791.4 414.7 M818.8 469.7 L778.5 489.4 M787.4 485 L776.8 477.3 M791 483.3 L780.3 475.5 M818.8 524.2 L778.5 544.4 M787.4 539.9 L776.6 532.3 M818.8 577.6 L778.5 596.4 M818.8 629 L785.5 649.2 M785.5 649.2 L774.2 642.4 M788.9 647.2 L777.5 640.4 M792.3 645.1 L786.6 641.7 M818.8 680.3 L787 702.5 M787 702.5 L775.2 696.5 M790.2 700.2 L778.5 694.2 M793.5 698 L787.6 695 M818.8 728.5 L782.9 744.1 M782.9 744.1 L772.6 735.9 M786.5 742.5 L776.2 734.3 M818.8 770.8 L782.3 783 M782.3 783 L772.7 773.9 M786 781.7 L776.5 772.7 M818.8 795.3 L789.5 820.7 M789.5 820.7 L777.2 816 M792.5 818.1 L780.2 813.4 M818.8 817.8 L797.8 851.2 M797.8 851.2 L784.6 850.2 M799.9 847.9 L793.3 847.4 M818.8 835 L796.4 868.1 M796.4 868.1 L783.3 866.7 M798.6 864.8 L785.5 863.4 M818.8 851.2 L808.4 885.2 M808.4 885.2 L795.4 887.7 M809.6 881.4 L803.1 882.7 M818.8 870.5 L817.3 893.5 M817.6 889.6 L811.5 892.3" stroke="#000" stroke-width="1.45" fill="none"/>
<path d="M775.6 178.5 L771.8 167.5 L781.3 176.6 Z M778.6 250.2 L773 240 L783.9 247.4 Z M775.2 306.6 L771.5 295.5 L780.9 304.8 Z M773.5 360.7 L771.5 349.2 L779.4 359.8 Z M780 359.7 L778 348.2 L786 358.8 Z M775.2 425.7 L771.7 414.6 L780.9 424 Z M778.5 489.4 L773.2 479 L783.9 486.8 Z M778.5 544.4 L773.1 534.1 L783.9 541.7 Z M778.5 596.4 L773.4 585.9 L783.9 593.9 Z" fill="#000" stroke="#000" stroke-width="0.8" stroke-linejoin="miter"/>
</g>
<path d="M912.7 38.8 V883.5" stroke="#000" stroke-width="2.6"/>
<g stroke="#000" stroke-width="3.8" stroke-linecap="round">
<path d="M913.2 870.5 H924.2"/>
<path d="M913.2 827.4 H924.2"/>
<path d="M913.2 783.4 H924.2"/>
<path d="M913.2 738.3 H924.2"/>
<path d="M913.2 692.1 H924.2"/>
<path d="M913.2 644.7 H924.2"/>
<path d="M913.2 596.1 H924.2"/>
<path d="M913.2 546.3 H924.2"/>
<path d="M913.2 495.1 H924.2"/>
<path d="M913.2 442.3 H924.2"/>
<path d="M913.2 388.2 H924.2"/>
<path d="M913.2 332.7 H924.2"/>
<path d="M913.2 277.3 H924.2"/>
<path d="M913.2 220 H924.2"/>
<path d="M913.2 163.8 H924.2"/>
<path d="M913.2 107.6 H924.2"/>
<path d="M913.2 51.3 H924.2"/>
</g>
<g font-size="20.8" fill="#000">
<text x="938.3" y="878">0</text>
<text x="938.3" y="834.9">1</text>
<text x="938.3" y="790.9">2</text>
<text x="938.3" y="745.8">3</text>
<text x="938.3" y="699.6">4</text>
<text x="938.3" y="652.2">5</text>
<text x="938.3" y="603.6">6</text>
<text x="938.3" y="553.8">7</text>
<text x="938.3" y="502.6">8</text>
<text x="938.3" y="449.8">9</text>
<text x="938.3" y="395.7">10</text>
<text x="938.3" y="340.2">11</text>
<text x="938.3" y="284.8">12</text>
<text x="938.3" y="227.5">13</text>
<text x="938.3" y="171.3">14</text>
<text x="938.3" y="115.1">15</text>
<text x="938.3" y="58.8">16</text>
</g>
<text font-size="21.3" fill="#000" text-anchor="middle" transform="translate(888.5 488.5) rotate(90)">Height (Km)</text>
</svg>
</body></html>
